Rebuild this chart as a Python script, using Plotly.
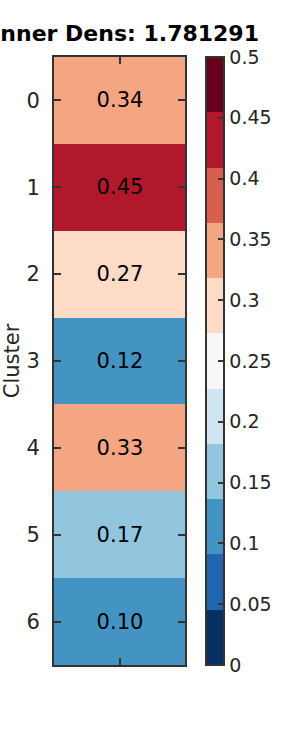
import plotly.graph_objects as go

clusters = [0, 1, 2, 3, 4, 5, 6]
values = [0.34, 0.45, 0.274, 0.12, 0.33, 0.17, 0.10]
title_text = "Inner Dens: 1.781291"
cb_ticks = [0, 0.05, 0.1, 0.15, 0.2, 0.25, 0.3, 0.35, 0.4, 0.45, 0.5]
cb_ticktext = ["0", "0.05", "0.1", "0.15", "0.2", "0.25", "0.3", "0.35", "0.4", "0.45", "0.5"]
palette = ["#053061", "#2166ac", "#4393c3", "#92c5de", "#d1e5f0", "#f7f7f7",
           "#fddbc7", "#f4a582", "#d6604d", "#b2182b", "#67001f"]

n = len(palette)
colorscale = []
for i, c in enumerate(palette):
    colorscale.append([i / n, c])
    colorscale.append([(i + 1) / n, c])

FONT = "DejaVu Sans"
DARK = "#333333"
TXT = "#262626"

fig = go.Figure(go.Heatmap(
    z=[[v] for v in values],
    x=[0],
    y=clusters,
    zmin=0, zmax=0.5,
    colorscale=colorscale,
    texttemplate="%{z:.2f}",
    textfont=dict(family=FONT, size=21, color="black"),
    hoverinfo="skip",
    colorbar=dict(
        x=(206 - 54) / 131, xanchor="left", xpad=0,
        y=0.5, yanchor="middle", ypad=0,
        len=1, lenmode="fraction",
        thickness=18,
        outlinecolor=DARK, outlinewidth=2,
        tickvals=cb_ticks, ticktext=cb_ticktext,
        ticks="inside", ticklen=7, tickwidth=2, tickcolor=DARK,
        tickfont=dict(family=FONT, size=19, color=TXT),
    ),
))

fig.update_layout(
    width=300, height=750,
    margin=dict(l=54, r=115, t=57, b=85, autoexpand=False),
    paper_bgcolor="white", plot_bgcolor="white",
    title=dict(text="<b>" + title_text + "</b>", xref="container", x=259 / 300,
               xanchor="right", yref="container", y=1 - 33 / 750, yanchor="middle",
               font=dict(family=FONT, size=22, color="black")),
    showlegend=False,
)
fig.update_xaxes(range=[-0.5, 0.5], tickvals=[0], ticktext=[""], ticks="inside",
                 ticklen=7, tickwidth=2, tickcolor=DARK, showline=True,
                 linecolor=DARK, linewidth=2, mirror="allticks", showgrid=False,
                 zeroline=False, automargin=False)
fig.update_yaxes(range=[6.5, -0.5], tickvals=clusters,
                 ticktext=[str(c) for c in clusters], ticks="inside", ticklen=7,
                 tickwidth=2, tickcolor=DARK, showline=True, linecolor=DARK,
                 linewidth=2, mirror="allticks", showgrid=False, zeroline=False,
                 automargin=False,
                 tickfont=dict(family=FONT, size=21, color=TXT),
                 ticklabelstandoff=8,
                 title=dict(text="Cluster", standoff=10,
                            font=dict(family=FONT, size=21, color=TXT)))

fig.write_html("out.html")
